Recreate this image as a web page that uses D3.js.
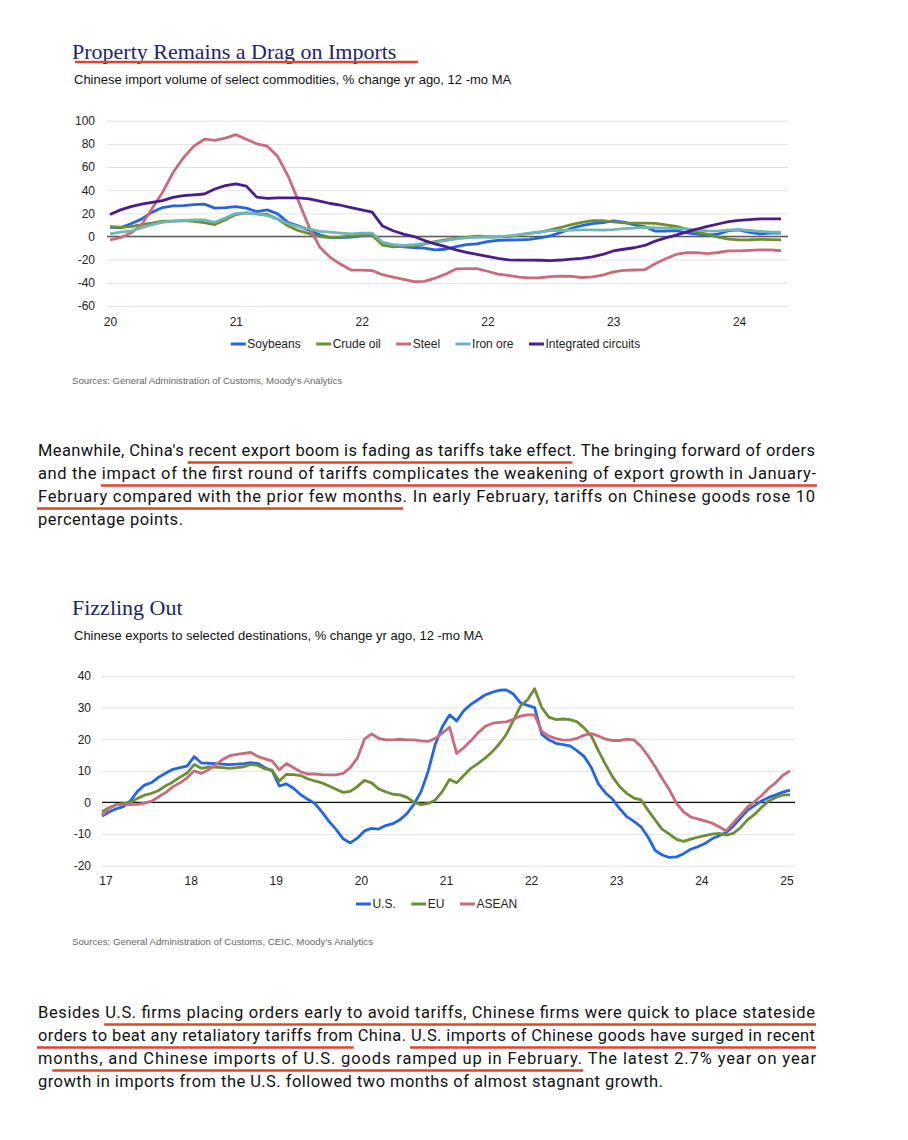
<!DOCTYPE html>
<html>
<head>
<meta charset="utf-8">
<script src="https://cdn.jsdelivr.net/npm/d3@7"></script>
<style>
  body { margin: 0; background: #fff; }
</style>
</head>
<body>
<script>

// ---------- chart 1 data: import volume, % change yr ago ----------
var importTickLabels = ["20", "21", "22", "22", "23", "24"];
var importYTicks = [100, 80, 60, 40, 20, 0, -20, -40, -60];

var soybeans = [8, 7.5, 11, 15, 21, 25, 26.4, 26.7, 27.5, 28, 24.5, 25, 25.8, 24.5, 21.5, 23, 19.5, 12, 9, 5.5,
  1.5, -1, -1, -0.5, 0.5, 1, -5.5, -7.5, -9, -9.5, -10, -11.5, -11, -8.8, -7, -6.3, -4.5, -3.4, -3, -2.9,
  -2.5, -1.2, 0.5, 3.5, 7, 9.5, 11.2, 12, 13.5, 12.5, 10, 8.6, 4.6, 4.6, 5, 3.2, 2, 1.2, 2, 5,
  5.8, 3.5, 2.3, 2.9, 2.9];
var crudeOil = [8.6, 8, 8.6, 10.3, 11.5, 13.2, 13.2, 13.8, 13, 12, 10.3, 14.5, 19, 20.4, 19.5, 19, 15, 9, 5, 2.5,
  0, -1, -0.5, 0.5, 1, 1, -7.5, -9, -8.6, -8, -6.5, -4.5, -3, -1.5, -0.7, 0.3, -0.4, -0.3, 0, 1.5,
  2.8, 3.8, 5.8, 7.8, 10.2, 12.3, 13.8, 13.8, 12.6, 11.8, 11.5, 11.5, 11.3, 10, 8.8, 6.5, 3.8, 1.8, -0.5, -2.3,
  -2.9, -2.8, -2.4, -2.7, -2.9];
var steel = [-3, -1, 3, 10, 24, 38, 55, 68, 78, 84, 83, 85, 88, 84, 80, 78, 69, 52, 30, 8,
  -9, -18, -24, -29, -29, -29.5, -33, -35, -37, -39, -38.7, -36, -32.5, -28, -27.8, -27.8, -30, -32.5, -33.5, -35,
  -35.8, -35.6, -34.6, -34.2, -34.4, -35.4, -34.8, -33.3, -30.5, -29.3, -28.9, -28.7, -23.5, -19.2, -15.5, -14, -14, -14.7, -13.8, -12.4,
  -12.4, -12, -11.5, -11.5, -12.3];
var ironOre = [2.3, 3.7, 4.6, 7.5, 10.3, 12.3, 13.2, 13.8, 14.3, 14.3, 12.3, 16, 20, 20.4, 19.5, 18, 15.2, 11, 8.6, 6.6,
  4.5, 3.7, 3, 2.3, 2.9, 3, -5, -7, -7.7, -7, -6, -5, -3.5, -2, -1.2, -0.8, -0.6, -0.3, 0.5, 1.5,
  3, 4, 5, 5.2, 5.5, 5.7, 5.7, 5.5, 6, 6.8, 7.2, 8, 7.5, 7.2, 6.8, 6.6, 5.5, 4.8, 4.6, 5.8,
  6, 5.2, 4.5, 3.8, 3.7];
var integratedCircuits = [19, 23, 25.8, 28, 29.5, 31, 33.8, 35.3, 36, 36.7, 41, 44, 45.5, 43.5, 34, 33, 33.3, 33.3, 33.3, 32.5,
  30.5, 28.5, 27, 25, 23, 21, 9, 5, 2, 0, -3.5, -6.3, -8.8, -11.5, -13.6, -15.5, -17.2, -18.9, -20.2, -20.4,
  -20.4, -20.5, -20.8, -20.3, -19.5, -18.8, -17.5, -15.5, -12.5, -11, -9.7, -7.7, -4, -1.2, 1.2, 4, 6.5, 8.8, 10.8, 12.8,
  14, 14.6, 15.2, 15.2, 15.2];

// ---------- chart 2 data: exports, % change yr ago ----------
var exportTickLabels = ["17", "18", "19", "20", "21", "22", "23", "24", "25"];
var exportYTicks = [40, 30, 20, 10, 0, -10, -20];

var usExports = [-4.3, -3, -2, -1.3, 0.5, 3.5, 5.5, 6.3, 8, 9.3, 10.5, 11, 11.5, 14.5, 12.5, 12.4, 12.3, 12.1, 12, 12.1,
  12.3, 12.6, 12.3, 11, 10, 5.2, 5.9, 4.5, 2.5, 1, -0.3, -3, -6, -8.5, -11.5, -12.8, -11.3, -9, -8.2, -8.4,
  -7.3, -6.7, -5.5, -3.5, -0.5, 3.5, 10, 18.5, 24, 27.7, 25.8, 29, 31, 32.5, 34, 34.8, 35.5, 35.6, 34.3, 31.5,
  30.7, 30, 21.5, 19.8, 18.7, 18.3, 17.9, 16.3, 14.5, 11, 5.8, 3, 1, -2, -4.5, -6, -7.7, -11, -15.2, -16.6,
  -17.4, -17.2, -16.2, -14.8, -14, -13, -11.5, -10.5, -9.5, -7.5, -5, -2.5, -1, 0.5, 1.6, 2.4, 3.3, 3.9];
var euExports = [-2.9, -1.7, -0.7, -0.4, 0, 1.3, 2.3, 2.9, 3.8, 5.3, 6.5, 8, 9.3, 12, 10.8, 11.2, 11.2, 11, 10.8, 11,
  11.3, 12, 11.7, 10.6, 10.2, 6.8, 8.9, 8.8, 8.5, 7.5, 6.8, 6.2, 5.2, 4.2, 3.2, 3.5, 5, 7, 6.2, 4.3,
  3.4, 2.6, 2.4, 1.6, 0, -0.7, -0.3, 0.8, 3.5, 7.3, 6.2, 8.5, 10.8, 12.3, 14, 16, 18.5, 21.5, 26, 30.5,
  32.5, 36, 30, 27, 26.2, 26.4, 26.2, 25.5, 23.5, 21, 16.3, 12, 8, 5, 2.8, 1.4, 0.8, -2.5, -5.6, -8.5,
  -10, -11.7, -12.3, -11.6, -11, -10.5, -10, -9.8, -10.3, -9.8, -8, -5.5, -3.8, -1.5, 0.5, 1.6, 2.4, 2.4];
var aseanExports = [-4, -1.9, -0.7, -0.5, -0.7, -0.6, -0.2, 0.4, 1.8, 3.2, 5, 6.2, 7.8, 10, 9.2, 10.3, 11.8, 13.6, 14.8, 15.2,
  15.5, 15.8, 14.5, 13.8, 13.1, 10.3, 12.3, 11, 9.7, 9, 9, 8.8, 8.7, 8.7, 9.2, 11, 14, 20, 21.7, 20.3,
  19.8, 19.8, 20, 19.8, 19.8, 19.5, 19.3, 20.3, 22, 23.8, 15.5, 17.3, 19.5, 22, 24, 25, 25.3, 25.5, 26.3, 27.3,
  27.7, 27.7, 22.5, 21, 20.2, 19.7, 19.8, 20.3, 21.3, 21.8, 21, 20, 19.6, 19.6, 20, 19.8, 17.7, 14.7, 11.3, 7.5,
  4, -0.3, -3, -4.6, -5.2, -5.8, -6.5, -7.7, -9, -6.5, -4, -1.5, 0.3, 2.2, 4.5, 6.3, 8.6, 10];

// ---------- text ----------
var para1Lines = [
  "Meanwhile, China's recent export boom is fading as tariffs take effect. The bringing forward of orders",
  "and the impact of the first round of tariffs complicates the weakening of export growth in January-",
  "February compared with the prior few months. In early February, tariffs on Chinese goods rose 10",
  "percentage points."
];
var para1Marks = [
  [0, "recent export boom is fading as tariffs take effect"],
  [1, "impact of the first round of tariffs complicates the weakening of export growth in January-"],
  [2, "February compared with the prior few months"]
];
var para2Lines = [
  "Besides U.S. firms placing orders early to avoid tariffs, Chinese firms were quick to place stateside",
  "orders to beat any retaliatory tariffs from China. U.S. imports of Chinese goods have surged in recent",
  "months, and Chinese imports of U.S. goods ramped up in February. The latest 2.7% year on year",
  "growth in imports from the U.S. followed two months of almost stagnant growth."
];
var para2Marks = [
  [0, "U.S. firms placing orders early to avoid tariffs, Chinese firms were quick to place stateside"],
  [1, "orders to beat any retaliatory tariffs from"],
  [1, "U.S. imports of Chinese goods have surged in recent"],
  [2, "onths, and Chinese imports of U.S. goods ramped up in February."]
];

var sans = "'Liberation Sans', Arial, Helvetica, sans-serif";
var serif = "'Liberation Serif', 'Times New Roman', serif";
var bodyFont = "Roboto, 'Noto Sans', sans-serif";
var red = "#e0452b";

var svg = d3.select("body").append("svg")
  .attr("width", 908)
  .attr("height", 1140);

// title + red underline + subtitle
function drawHeading(title, sub, baseY, underlineTo) {
  svg.append("text")
    .attr("x", 72).attr("y", baseY)
    .attr("font-family", serif).attr("font-size", 22)
    .attr("fill", "#1c2463")
    .text(title);
  if (underlineTo) {
    svg.append("line")
      .attr("x1", 75).attr("x2", underlineTo)
      .attr("y1", baseY + 3).attr("y2", baseY + 3)
      .attr("stroke", red).attr("stroke-width", 2.6);
  }
  svg.append("text")
    .attr("x", 74).attr("y", baseY + 25)
    .attr("font-family", sans).attr("font-size", 13)
    .attr("fill", "#111")
    .text(sub);
}

function drawChart(c) {
  var g = svg.append("g");
  var n = c.series[0].values.length;

  var x = d3.scaleLinear().domain([0, n - 1]).range([c.lineLeft, c.lineRight]);
  var y = d3.scaleLinear().domain(c.yDomain).range([c.bottom, c.top]);

  // y axis + gridlines (plain hyphen for negatives, like the source)
  var yAxis = d3.axisLeft(y)
    .tickValues(c.yTicks)
    .tickFormat(function(d) { return String(d); })
    .tickSize(-(c.gridRight - c.gridLeft))
    .tickPadding(c.yPad);
  var yg = g.append("g")
    .attr("transform", "translate(" + c.gridLeft + ",0)")
    .call(yAxis);
  yg.select(".domain").remove();
  yg.selectAll(".tick line").attr("stroke", "#e4e4e4").attr("stroke-width", 1);
  yg.selectAll(".tick text")
    .attr("font-family", sans).attr("font-size", 12).attr("fill", "#222");

  // zero line
  g.append("line")
    .attr("x1", c.gridLeft).attr("x2", c.gridRight)
    .attr("y1", y(0)).attr("y2", y(0))
    .attr("stroke", c.zeroColor).attr("stroke-width", c.zeroWidth);

  // x axis labels
  var xAxis = d3.axisBottom(x)
    .tickValues(c.tickLabels.map(function(d, i) { return c.tickStart + 12 * i; }))
    .tickFormat(function(d, i) { return c.tickLabels[i]; })
    .tickSize(0)
    .tickPadding(c.xPad);
  var xg = g.append("g")
    .attr("transform", "translate(0," + c.bottom + ")")
    .call(xAxis);
  xg.select(".domain").remove();
  xg.selectAll(".tick text")
    .attr("font-family", sans).attr("font-size", 12).attr("fill", "#222");

  // series lines
  var line = d3.line()
    .x(function(d, i) { return x(i); })
    .y(function(d) { return y(d); });

  g.selectAll("path.series")
    .data(c.series)
    .enter()
    .append("path")
    .attr("class", "series")
    .attr("d", function(s) { return line(s.values); })
    .attr("fill", "none")
    .attr("stroke", function(s) { return s.color; })
    .attr("stroke-width", 2.8)
    .attr("stroke-linejoin", "round");

  // legend, laid out left to right then centred
  var lg = g.append("g");
  var cursor = 0;
  c.series.forEach(function(s, i) {
    if (i > 0) cursor += 15.5;
    lg.append("line")
      .attr("x1", cursor).attr("x2", cursor + 15)
      .attr("y1", 0).attr("y2", 0)
      .attr("stroke", s.color).attr("stroke-width", 3);
    var t = lg.append("text")
      .attr("x", cursor + 16.5).attr("y", 4.3)
      .attr("font-family", sans).attr("font-size", 12).attr("fill", "#222")
      .text(s.name);
    cursor += 16.5 + t.node().getComputedTextLength();
  });
  var mid = (c.gridLeft + c.gridRight) / 2 - 12;
  lg.attr("transform", "translate(" + (mid - cursor / 2) + "," + c.legendY + ")");

  // source note
  g.append("text")
    .attr("x", 72).attr("y", c.sourceY)
    .attr("font-family", sans).attr("font-size", 9.5).attr("fill", "#666")
    .attr("textLength", c.sourceWidth).attr("lengthAdjust", "spacingAndGlyphs")
    .text(c.source);
}

function drawParagraph(lines, marks, firstBase, widths) {
  var nodes = [];
  lines.forEach(function(l, i) {
    var t = svg.append("text")
      .attr("x", 38).attr("y", firstBase + i * 23)
      .attr("font-family", bodyFont).attr("font-size", 16.5).attr("fill", "#111")
      .attr("textLength", widths[i]).attr("lengthAdjust", "spacing")
      .text(l);
    nodes.push(t.node());
  });
  marks.forEach(function(m) {
    var node = nodes[m[0]];
    var idx = lines[m[0]].indexOf(m[1]);
    var x1 = node.getStartPositionOfChar(idx).x;
    var x2 = node.getEndPositionOfChar(idx + m[1].length - 1).x;
    var yy = firstBase + m[0] * 23 + 6.5;
    svg.append("line")
      .attr("x1", x1 - 1).attr("x2", x2 + 1)
      .attr("y1", yy).attr("y2", yy)
      .attr("stroke", red).attr("stroke-width", 2.6);
  });
}

// ---------- chart 1 ----------
drawHeading("Property Remains a Drag on Imports",
  "Chinese import volume of select commodities, % change yr ago, 12 -mo MA", 59, 418);

drawChart({
  series: [
    { name: "Soybeans", color: "#2266e3", values: soybeans },
    { name: "Crude oil", color: "#6b8f32", values: crudeOil },
    { name: "Steel", color: "#c96b7c", values: steel },
    { name: "Iron ore", color: "#72b5b8", values: ironOre },
    { name: "Integrated circuits", color: "#4b1c8c", values: integratedCircuits }
  ],
  yDomain: [-60, 100], yTicks: importYTicks,
  top: 120.7, bottom: 306,
  gridLeft: 107, gridRight: 788,
  lineLeft: 110, lineRight: 781,
  tickLabels: importTickLabels, tickStart: 0,
  yPad: 12, xPad: 11.5,
  zeroColor: "#5a5a5a", zeroWidth: 1.6,
  legendY: 344,
  source: "Sources: General Administration of Customs, Moody's Analytics",
  sourceY: 384, sourceWidth: 270
});

drawParagraph(para1Lines, para1Marks, 456, [777, 778, 777, 145]);

// ---------- chart 2 ----------
drawHeading("Fizzling Out",
  "Chinese exports to selected destinations, % change yr ago, 12 -mo MA", 615, null);

drawChart({
  series: [
    { name: "U.S.", color: "#2266e3", values: usExports },
    { name: "EU", color: "#6b8f32", values: euExports },
    { name: "ASEAN", color: "#c96b7c", values: aseanExports }
  ],
  yDomain: [-20, 40], yTicks: exportYTicks,
  top: 676, bottom: 865.7,
  gridLeft: 102, gridRight: 795,
  lineLeft: 102, lineRight: 790,
  tickLabels: exportTickLabels, tickStart: 0.5,
  yPad: 11, xPad: 10.8,
  zeroColor: "#111", zeroWidth: 1.3,
  legendY: 904,
  source: "Sources: General Administration of Customs, CEIC, Moody's Analytics",
  sourceY: 944.5, sourceWidth: 301
});

drawParagraph(para2Lines, para2Marks, 1018, [777, 777, 778, 625]);

</script>
</body>
</html>
